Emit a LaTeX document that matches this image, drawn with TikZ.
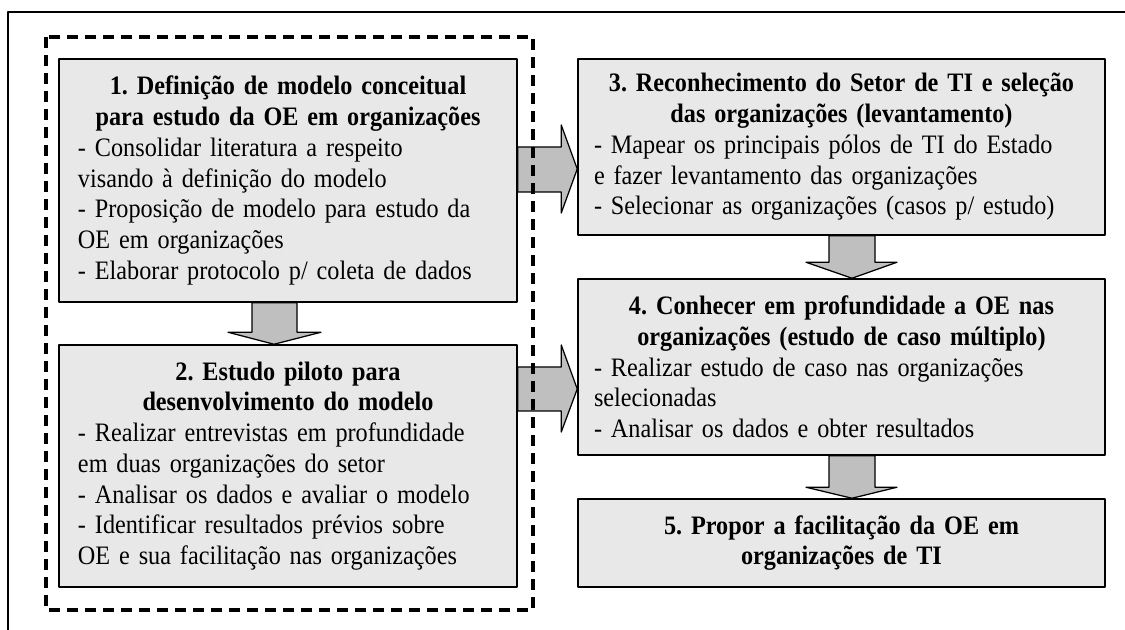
\documentclass[tikz,border=0pt]{standalone}
\usepackage{fontspec}
\setmainfont{Liberation Serif}[FakeStretch=0.91]
\usetikzlibrary{calc}
\begin{document}
\begin{tikzpicture}[x=0.4pt,y=-0.4pt,line join=round,font=\fontsize{10.65pt}{12.3pt}\selectfont\frenchspacing,
	box/.style={draw,line width=0.6pt,fill=black!9,align=left,inner sep=0pt},
	wide/.style={minimum width=183.2pt,text width=168pt},
	wider/.style={minimum width=210.8pt,text width=198pt},
	blockarrow/.style={draw,line width=0.5pt,fill=black!25}]
	\useasboundingbox (0,0) rectangle (1125,630);
	\draw[line width=0.6pt] (8,630)--(8,12)--(1125,12);
	
	\node[box,wide,minimum height=97.2pt] (b1) at (288,180.5) {{\centering\bfseries 1. Definição de modelo conceitual\\para estudo da OE em organizações\par}- Consolidar literatura a respeito\\visando à definição do modelo\\- Proposição de modelo para estudo da\\OE em organizações\\- Elaborar protocolo p/ coleta de dados};
	\node[box,wide,minimum height=96.8pt] (b2) at (288,466) {{\centering\bfseries 2. Estudo piloto para\\desenvolvimento do modelo\par}- Realizar entrevistas em profundidade\\em duas organizações do setor\\- Analisar os dados e avaliar o modelo\\- Identificar resultados prévios sobre\\OE e sua facilitação nas organizações};
	\node[box,wider,minimum height=70.4pt] (b3) at (841.5,147) {{\centering\bfseries 3. Reconhecimento do Setor de TI e seleção\\das organizações (levantamento)\par}- Mapear os principais pólos de TI do Estado\\e fazer levantamento das organizações\\- Selecionar as organizações (casos p/ estudo)};
	\node[box,wider,minimum height=70.4pt] (b4) at (841.5,367) {{\centering\bfseries 4. Conhecer em profundidade a OE nas\\organizações (estudo de caso múltiplo)\par}- Realizar estudo de caso nas organizações\\selecionadas\\- Analisar os dados e obter resultados};
	\node[box,wider,minimum height=35.2pt] (b5) at (841.5,543) {{\centering\bfseries 5. Propor a facilitação da OE em\\organizações de TI\par}};
	
	\draw[blockarrow] (b1.east|-0,147) -- ($(b3.west|-0,147)+(-16,0)$) -- ($(b3.west|-0,125)+(-16,0)$) -- (b3.west|-0,169) -- ($(b3.west|-0,213)+(-16,0)$) -- ($(b3.west|-0,192)+(-16,0)$) -- (b1.east|-0,192) -- cycle;
	\draw[blockarrow] (b2.east|-0,367) -- ($(b4.west|-0,367)+(-16,0)$) -- ($(b4.west|-0,345)+(-16,0)$) -- (b4.west|-0,389) -- ($(b4.west|-0,432)+(-16,0)$) -- ($(b4.west|-0,411)+(-16,0)$) -- (b2.east|-0,411) -- cycle;
	\draw[blockarrow] (b1.south-|252,0) -- ($(b2.north-|252,0)+(0,-12)$) -- ($(b2.north-|228,0)+(0,-12)$) -- (b2.north-|274,0) -- ($(b2.north-|321,0)+(0,-12)$) -- ($(b2.north-|297,0)+(0,-12)$) -- (b1.south-|297,0) -- cycle;
	\draw[blockarrow] (b3.south-|829,0) -- ($(b4.north-|829,0)+(0,-16)$) -- ($(b4.north-|806,0)+(0,-16)$) -- (b4.north-|852,0) -- ($(b4.north-|897,0)+(0,-16)$) -- ($(b4.north-|875,0)+(0,-16)$) -- (b3.south-|875,0) -- cycle;
	\draw[blockarrow] (b4.south-|829,0) -- ($(b5.north-|829,0)+(0,-11)$) -- ($(b5.north-|806,0)+(0,-11)$) -- (b5.north-|852,0) -- ($(b5.north-|897,0)+(0,-11)$) -- ($(b5.north-|875,0)+(0,-11)$) -- (b4.south-|875,0) -- cycle;
	
	\draw[line width=1.3pt,dash pattern=on 4.4pt off 2.8pt] (46,37) rectangle (533,610);
\end{tikzpicture}
\end{document}
